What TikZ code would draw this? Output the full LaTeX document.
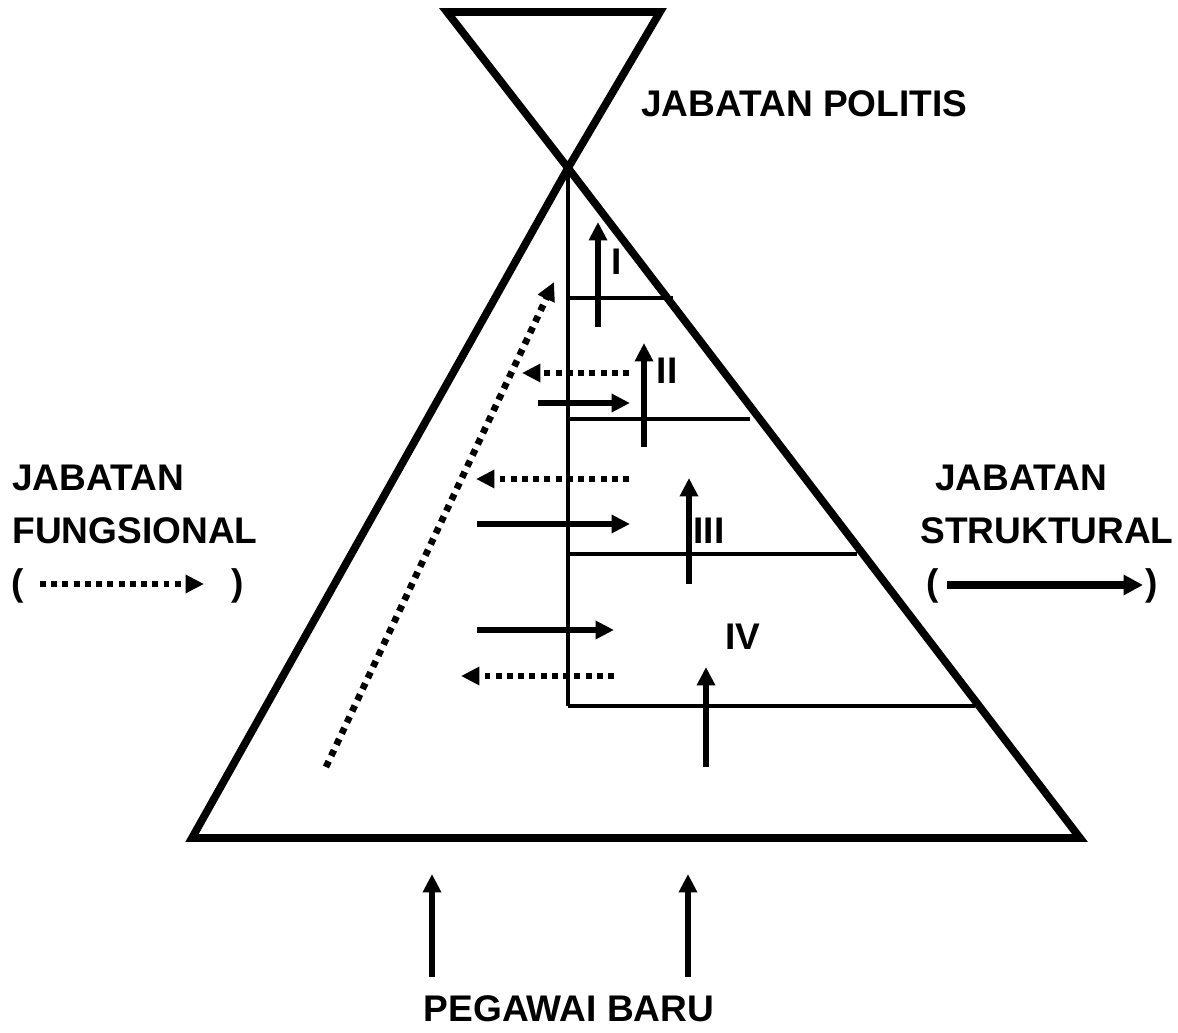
\documentclass[tikz,border=0pt]{standalone}
\usepackage{fontspec}
\setmainfont{Liberation Sans}
\usetikzlibrary{arrows.meta}
\begin{document}
\begin{tikzpicture}[x=0.02cm,y=-0.02cm,
  lbl/.style={font=\fontsize{21.1}{24}\selectfont\bfseries, inner sep=0pt},
  frame/.style={line width=4.4pt, line cap=butt},
  thin/.style={line width=1.8pt},
  solidarr/.style={line width=3.3pt, -{Triangle[length=10.5pt,width=10pt]}},
  dotarr/.style={line width=3.3pt, dash pattern=on 3.3pt off 3.1pt, -{Triangle[length=10.5pt,width=10pt]}}]
\useasboundingbox (0,0) rectangle (1178,1033);
% frame coordinates
\coordinate (tl) at (447,12);
\coordinate (tr) at (660,12);
\coordinate (apex) at (568,168);
\coordinate (bl) at (192,838);
\coordinate (br) at (1080,838);
\draw[frame, line join=miter] (apex) -- (tl) -- (tr) -- (apex);
\draw[frame, line join=miter] (apex) -- (bl) -- (br) -- (apex);
% inner lines
\coordinate (vb) at (568,706);
\draw[thin] (apex) -- (vb);
\coordinate (h1a) at (568,298); \coordinate (h1b) at (673,298);
\coordinate (h2a) at (568,419); \coordinate (h2b) at (750,419);
\coordinate (h3a) at (568,554); \coordinate (h3b) at (857,554);
\coordinate (h4b) at (975,706);
\draw[thin] (h1a) -- (h1b);
\draw[thin] (h2a) -- (h2b);
\draw[thin] (h3a) -- (h3b);
\draw[thin] (vb) -- (h4b);
% up arrows
\coordinate (u1a) at (598,327); \coordinate (u1b) at (598,222);
\coordinate (u2a) at (644,447); \coordinate (u2b) at (644,343);
\coordinate (u3a) at (689,584); \coordinate (u3b) at (689,478);
\coordinate (u4a) at (706,767); \coordinate (u4b) at (706,667);
\coordinate (u5a) at (432,977); \coordinate (u5b) at (432,874);
\coordinate (u6a) at (688,977); \coordinate (u6b) at (688,874);
\draw[solidarr] (u1a) -- (u1b);
\draw[solidarr] (u2a) -- (u2b);
\draw[solidarr] (u3a) -- (u3b);
\draw[solidarr] (u4a) -- (u4b);
\draw[solidarr] (u5a) -- (u5b);
\draw[solidarr] (u6a) -- (u6b);
% right arrows
\coordinate (r1a) at (538,403); \coordinate (r1b) at (630,403);
\coordinate (r2a) at (477,524); \coordinate (r2b) at (630,524);
\coordinate (r3a) at (477,630); \coordinate (r3b) at (614,630);
\draw[solidarr] (r1a) -- (r1b);
\draw[solidarr] (r2a) -- (r2b);
\draw[solidarr] (r3a) -- (r3b);
% dotted left arrows
\coordinate (l1a) at (629,373); \coordinate (l1b) at (522,373);
\coordinate (l2a) at (629,479); \coordinate (l2b) at (476,479);
\coordinate (l3a) at (614,676); \coordinate (l3b) at (461,676);
\draw[dotarr] (l1a) -- (l1b);
\draw[dotarr] (l2a) -- (l2b);
\draw[dotarr] (l3a) -- (l3b);
% dotted diagonal
\coordinate (da) at (326,767); \coordinate (db) at (554,282);
\draw[dotarr, line width=3.8pt, dash pattern=on 3.6pt off 3.4pt] (da) -- (db);
% level labels
\node[lbl] (n1) at (617,262) {I};
\node[lbl] (n2) at (667,371) {II};
\node[lbl] (n3) at (709,531) {III};
\node[lbl] (n4) at (743,637) {IV};
% texts
\node[lbl, anchor=west] (pol) at (641,104) {JABATAN POLITIS};
\node[lbl, anchor=west] (f1) at (12,478) {JABATAN};
\node[lbl, anchor=west] (f2) at (12,531) {FUNGSIONAL};
\node[lbl, anchor=west] (fp1) at (11,586) {(};
\node[lbl, anchor=west] (fp2) at (231,586) {)};
\coordinate (fa) at (40,584); \coordinate (fb) at (204,584);
\draw[dotarr] (fa) -- (fb);
\node[lbl, anchor=west] (s1) at (935,478) {JABATAN};
\node[lbl, anchor=west] (s2) at (920,531) {STRUKTURAL};
\node[lbl, anchor=west] (sp1) at (926,586) {(};
\node[lbl, anchor=west] (sp2) at (1145,586) {)};
\coordinate (sa) at (947,585); \coordinate (sb) at (1143,585);
\draw[line width=4pt, -{Triangle[length=11pt,width=11pt]}] (sa) -- (sb);
\node[lbl] (peg) at (569,1009) {PEGAWAI BARU};
\end{tikzpicture}
\end{document}
